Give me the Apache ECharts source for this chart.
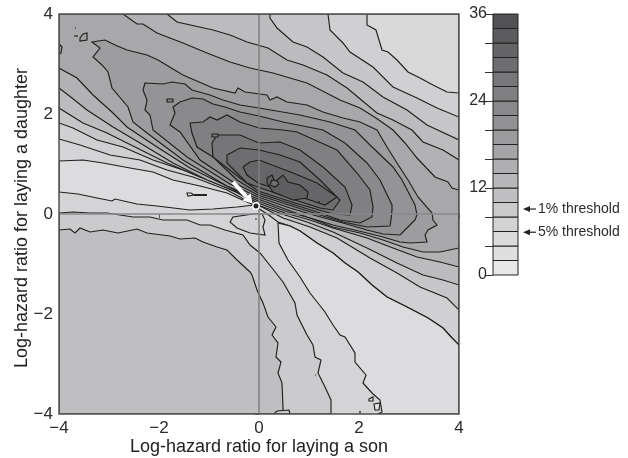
<!DOCTYPE html>
<html><head><meta charset="utf-8">
<style>html,body{margin:0;padding:0;background:#fff}#c{width:628px;height:458px}</style>
<script src="https://cdn.jsdelivr.net/npm/echarts@6/dist/echarts.min.js"></script>
</head><body><div id="c"></div>
<script>
// Contours in data units (log-hazard ratio for son, log-hazard ratio for daughter)
const band1 = [[-4,1.5],[-3.58,1.38],[-2.98,1.18],[-2.38,1.08],[-1.84,.88],[-1.32,.74],[-.64,.48],[-.38,.34],[-.02,.12],[.22,-.04],[.38,-.16],[.62,-.24],[.82,-.34],[1.16,-.58],[1.48,-.78],[1.72,-.98],[1.98,-1.16],[2.26,-1.42],[2.56,-1.66],[2.96,-1.86],[3.38,-2.08],[3.68,-2.28],[3.86,-2.48],[4,-2.62],[4,4],[-4,4]];
const band2 = [[-4,1.82],[-3.72,1.72],[-3.24,1.48],[-2.72,1.34],[-2.12,1.08],[-1.52,.88],[-.78,.58],[-.38,.4],[.02,.16],[.48,-.08],[1.02,-.26],[1.56,-.48],[2.22,-.88],[2.76,-1.18],[3.22,-1.46],[3.76,-1.68],[4,-1.92],[4,1.94],[3.56,2.12],[3.16,2.32],[2.68,2.54],[2.28,2.94],[1.82,3.24],[1.68,3.42],[1.42,3.68],[1.38,4],[-4,4]];
const band3 = [[-4,2.12],[-3.52,1.82],[-3.04,1.62],[-2.44,1.32],[-1.84,1.02],[-1.18,.74],[-.52,.48],[-.02,.18],[.52,-.02],[.96,-.16],[1.48,-.36],[2.16,-.68],[2.76,-.98],[3.28,-1.22],[3.68,-1.32],[4,-1.42],[4,1.48],[3.36,1.78],[2.96,2.08],[2.48,2.34],[2.08,2.64],[1.68,2.82],[1.28,3.14],[.96,3.34],[.68,3.44],[.36,3.72],[.22,3.92],[.22,4],[-4,4]];
const band4 = [[-4,2.52],[-3.74,2.32],[-3.44,2.08],[-2.92,1.74],[-2.38,1.42],[-1.72,1.02],[-1.04,.68],[-.44,.44],[-.02,.22],[.52,.02],[1.02,-.12],[1.48,-.28],[2.16,-.48],[2.68,-.68],[3.16,-.86],[3.62,-.96],[4,-1.06],[4,1.08],[3.68,1.28],[3.28,1.44],[3.06,1.68],[2.68,1.88],[2.36,2.02],[1.76,2.52],[1.36,2.78],[.88,2.98],[.56,3.08],[.18,3.32],[-.24,3.44],[-.58,3.58],[-.92,3.68],[-1.64,3.84],[-1.84,4],[-4,4]];
const band5 = [[-4,2.92],[-3.64,2.72],[-3.32,2.38],[-2.92,2.02],[-2.64,1.74],[-2.04,1.34],[-1.38,.92],[-.52,.5],[-.02,.26],[.52,.06],[1.02,-.08],[1.48,-.26],[2.02,-.38],[2.48,-.52],[2.88,-.66],[3.28,-.76],[3.62,-.76],[4,-.68],[4,.48],[3.86,.52],[3.78,.64],[3.52,.74],[3.16,1.12],[2.92,1.42],[2.68,1.68],[2.34,1.92],[2.02,2.12],[1.62,2.28],[.96,2.62],[.28,2.82],[-.18,2.92],[-.58,3.04],[-1.04,3.22],[-1.52,3.42],[-2.04,3.62],[-2.32,3.8],[-2.44,3.8],[-2.72,4],[-4,4]];
const ridgeA = [[-3.34,3.44],[-3.08,3.48],[-2.88,3.38],[-2.64,3.28],[-2.24,3.18],[-2.02,3.08],[-1.52,2.78],[-.92,2.52],[-.48,2.42],[-.42,2.52],[-.28,2.44],[.16,2.38],[.22,2.28],[.36,2.34],[.56,2.24],[.96,2.18],[1.28,2.04],[1.68,1.92],[2.02,1.84],[2.36,1.68],[2.56,1.34],[2.76,1.02],[2.98,.68],[3.18,.34],[3.46,.02],[3.48,-.12],[3.56,-.22],[3.38,-.32],[3.32,-.42],[3.36,-.56],[3.02,-.58],[2.82,-.56],[2.48,-.46],[2.08,-.36],[1.48,-.22],[.96,-.06],[.52,.1],[-.02,.3],[-.64,.56],[-1.52,1.08],[-2.24,1.62],[-2.52,1.84],[-2.62,2.14],[-2.94,2.52],[-3.02,2.84],[-3.14,2.98],[-3.32,3.14],[-3.18,3.32]];
const ridgeB = [[-2.28,2.62],[-1.92,2.6],[-1.74,2.64],[-1.48,2.6],[-1.34,2.48],[-.98,2.38],[-.72,2.28],[-.38,2.18],[0,2.12],[.82,1.98],[1.42,1.84],[1.92,1.68],[2.22,1.38],[2.68,.94],[2.86,.68],[3.12,.18],[3.16,-.02],[3.12,-.12],[2.98,-.26],[2.82,-.42],[2.48,-.4],[2.16,-.32],[1.68,-.18],[1.16,-.04],[.62,.12],[-.02,.34],[-.58,.6],[-1.44,1.14],[-2.12,1.68],[-2.18,1.98],[-2.28,2.08],[-2.24,2.28],[-2.32,2.48]];
const ridgeC = [[-1.58,2.24],[-1.34,2.32],[-1.12,2.3],[-.92,2.2],[-.68,2.14],[-.38,2.04],[0,1.96],[.48,1.84],[1.28,1.68],[1.72,1.42],[2.16,1.02],[2.42,.68],[2.66,.18],[2.66,.08],[2.64,-.12],[2.62,-.24],[2.16,-.26],[1.68,-.16],[1.22,-.02],[.72,.14],[-.02,.38],[-.52,.64],[-1.18,1.08],[-1.58,1.64],[-1.78,1.78],[-1.68,2.02],[-1.72,2.14]];
const ridgeD = [[-1.38,1.82],[-1.12,1.84],[-.98,1.94],[-.84,1.88],[-.64,1.98],[-.38,1.84],[0,1.72],[.48,1.68],[.76,1.64],[1.56,1.28],[1.96,.82],[2.22,.48],[2.28,.14],[2.26,-.06],[2.02,-.18],[1.62,-.12],[1.22,.02],[.72,.18],[-.02,.42],[-.44,.68],[-.92,1.14],[-1.24,1.34],[-1.34,1.62]];
const ridgeE = [[-.94,1.42],[-.84,1.58],[-.38,1.58],[0,1.42],[.42,1.44],[.82,1.28],[1.28,.94],[1.72,.54],[1.86,.18],[1.82,-.02],[1.48,0],[.72,.22],[-.02,.46],[-.38,.72],[-.92,1.14]];
const ridgeF = [[-.64,1.18],[-.38,1.32],[0,1.28],[.42,1.18],[.82,1.04],[1.22,.68],[1.62,.28],[1.48,.08],[1.22,.12],[.72,.28],[-.02,.54],[-.24,.62],[-.64,1.02]];
const ridgeG = [[-.32,.94],[-.18,1.04],[0,1.08],[.68,.82],[1.16,.62],[1.56,.34],[1.32,.18],[.72,.38],[-.02,.62],[-.24,.78]];
const ridgeH = [[.16,.72],[.26,.78],[.32,.64],[.48,.78],[.58,.64],[.82,.58],[.98,.44],[.96,.32],[.68,.28],[.28,.44],[.16,.62]];
const lowerLeft2 = [[-4,.02],[-3.72,.04],[-3.38,.02],[-3.04,.02],[-2.78,-.02],[-2.52,-.06],[-2.18,-.06],[-1.92,-.12],[-1.44,-.12],[-1.18,-.22],[-.98,-.22],[-.68,-.32],[-.32,-.42],[-.18,-.62],[.02,-.78],[.26,-1.08],[.48,-1.36],[.72,-1.78],[.76,-2.02],[.96,-2.42],[1.08,-2.62],[1.12,-2.86],[1.24,-2.92],[1.18,-3.18],[1.32,-3.46],[1.44,-3.72],[1.44,-4],[-4,-4]];
const lowerLeft3 = [[-4,-.32],[-3.78,-.3],[-3.68,-.38],[-3.58,-.28],[-3.38,-.36],[-3.12,-.32],[-2.82,-.38],[-2.44,-.3],[-2.24,-.38],[-1.78,-.44],[-1.58,-.5],[-1.28,-.48],[-1.12,-.56],[-.84,-.66],[-.64,-.72],[-.44,-.92],[-.18,-1.16],[-.14,-1.22],[-.04,-1.52],[.08,-1.78],[.18,-2.06],[.34,-2.26],[.26,-2.42],[.38,-2.58],[.34,-2.86],[.44,-2.96],[.38,-3.18],[.46,-3.38],[.48,-3.86],[.48,-4],[-4,-4]];
const cornerTopRight = [[2.16,4],[2.16,3.78],[2.34,3.68],[2.46,3.28],[2.58,3.24],[2.76,3.08],[2.98,2.84],[3.22,2.72],[3.48,2.58],[3.76,2.44],[4,2.42],[4,4]];
const wedgeLowerRight = [[2.38,-4],[2.46,-3.96],[2.42,-3.72],[2.26,-3.58],[2.08,-3.38],[2.14,-3.22],[1.92,-2.96],[1.92,-2.78],[1.72,-2.46],[1.62,-2.42],[1.48,-2.22],[1.32,-1.96],[1.02,-1.58],[.82,-1.26],[.58,-.92],[.4,-.58],[.38,-.18],[.62,-.24],[.82,-.34],[1.16,-.58],[1.48,-.78],[1.72,-.98],[1.98,-1.16],[2.26,-1.42],[2.56,-1.66],[2.96,-1.86],[3.38,-2.08],[3.68,-2.28],[3.86,-2.48],[4,-2.62],[4,-4]];
const wedgeLeft = [[-4,1.06],[-3.52,1.08],[-3.12,1.02],[-2.58,.92],[-2.12,.84],[-1.72,.68],[-1.18,.56],[-.64,.42],[-.24,.24],[-.1,.18],[-.44,.14],[-.92,.1],[-1.38,.08],[-2.04,.16],[-2.44,.2],[-2.88,.3],[-2.94,.26],[-3.24,.32],[-3.62,.4],[-4,.44]];
const islandCentre = [[-.58,-.16],[-.52,-.06],[-.12,0],[.06,0],[.12,-.12],[.08,-.26],[.12,-.42],[-.18,-.38],[-.44,-.28]];
const spotA = [[-3.58,3.52],[-3.52,3.6],[-3.44,3.62],[-3.44,3.48],[-3.58,3.46]];
const spotB = [[-4,3.4],[-3.94,3.34],[-3.96,3.22],[-4,3.2]];
const spotC = [[-1.84,2.3],[-1.72,2.3],[-1.72,2.24],[-1.84,2.24]];
const spotD = [[-.94,1.6],[-.82,1.6],[-.82,1.54],[-.94,1.54]];
const spotE = [[-1.44,.42],[-1.36,.42],[-1.3,.38],[-1.42,.36]];
const spotF = [[2.2,-3.7],[2.28,-3.66],[2.28,-3.74],[2.2,-3.74]];
const spotG = [[2.3,-3.8],[2.42,-3.78],[2.4,-3.92],[2.32,-3.92]];
const spotH = [[.3,-4],[.36,-3.94],[.6,-3.92],[.62,-4]];
const spotI = [[.26,.68],[.36,.66],[.4,.6],[.32,.54],[.22,.58]];
const streakA = [[-1.3,.38],[-1.04,.38]];
const streakB = [[1.2,.26],[1.2,.2]];
const streakC = [[2.02,-4],[2.02,-3.94]];
const streakD = [[-3.68,3.72],[-3.66,3.72]];
const streakE = [[-3.7,3.56],[-3.62,3.56]];
const streakF = [[1.12,-3.22],[1.14,-3.22]];
const streakG = [[-.08,-.1],[-.04,-.1]];
const legendLevels = [0,2,4,6,8,10,12,14,16,18,20,22,24,26,28,30,32,34];
const legendColors = ['#e8e8e9','#dfdfe0','#dbdbdc','#d3d3d4','#cacacb','#c0c0c2','#b8b8ba','#afafb1','#a5a5a7','#9c9c9e','#929294','#89898b','#808082','#777779','#6e6e70','#656567','#5c5c5e','#525254'];
const thresholdLabels = ['1% threshold','5% threshold'];
const thresholdValues = [9.1,5.9];
const arrowFrom = [-.52,.64];
const arrowTo = [-.13,.21];
const optimum = [-.06,.16];

const regions = [
 [band1,'#d0d0d2'],[band2,'#c6c6c8'],[band3,'#bcbcbe'],[band4,'#b2b2b4'],[band5,'#a8a8aa'],
 [ridgeA,'#9d9d9f'],[ridgeB,'#949496'],[ridgeC,'#8a8a8c'],[ridgeD,'#808082'],[ridgeE,'#767678'],[ridgeF,'#6e6e70'],[ridgeG,'#666668'],[ridgeH,'#5e5e60'],
 [lowerLeft2,'#cbcbcd'],[lowerLeft3,'#bfbfc2'],
 [cornerTopRight,'#d9d9da'],[wedgeLowerRight,'#dcdcde'],[wedgeLeft,'#dcdcde'],[islandCentre,'#d2d2d4'],
 [spotA,'#a2a2a4'],[spotB,'#9d9d9f'],[spotC,'#87878a'],[spotD,'#79797b'],[spotE,'#efefef'],[spotF,'#e4e4e4'],[spotG,'#e4e4e4'],[spotH,'#c8c8ca'],[spotI,'#6e6e70']
];
const streaks = [streakA,streakB,streakC,streakD,streakE,streakF,streakG];
const font = 'Liberation Sans';
const minus = v => String(v).replace('-','\u2212');

const chart = echarts.init(document.getElementById('c'), null, {renderer:'canvas'});
chart.setOption({
 animation:false,
 backgroundColor:'#fff',
 grid:[
  {left:59,top:14,width:400,height:400,show:true,backgroundColor:'#d4d4d6',borderWidth:0,outerBoundsMode:'none'},
  {left:493,top:14,width:25,height:261,outerBoundsMode:'none'}
 ],
 xAxis:[
  {type:'value',gridIndex:0,min:-4,max:4,interval:2,splitLine:{show:false},
   name:'Log-hazard ratio for laying a son',nameLocation:'middle',nameGap:24,nameMoveOverlap:false,
   nameTextStyle:{fontFamily:font,fontSize:18,color:'#222'},
   axisLine:{show:false},axisTick:{length:4,lineStyle:{color:'#555'}},
   axisLabel:{fontFamily:font,fontSize:17,color:'#2b2b2b',margin:6,formatter:minus}},
  {type:'value',gridIndex:1,min:0,max:1,show:false}
 ],
 yAxis:[
  {type:'value',gridIndex:0,min:-4,max:4,interval:2,splitLine:{show:false},
   name:'Log-hazard ratio for laying a daughter',nameLocation:'middle',nameGap:28,nameMoveOverlap:false,
   nameTextStyle:{fontFamily:font,fontSize:18,color:'#222',padding:[0,8,0,0]},
   axisLine:{show:false},axisTick:{length:4,lineStyle:{color:'#555'}},
   axisLabel:{fontFamily:font,fontSize:17,color:'#2b2b2b',margin:6,formatter:minus}},
  {type:'value',gridIndex:1,min:0,max:36,interval:4,splitLine:{show:false},
   axisLine:{show:false},axisTick:{length:8,lineStyle:{color:'#333'}},
   axisLabel:{fontFamily:font,fontSize:16,color:'#2b2b2b',margin:6,
    formatter:v=>v%12===0?String(v):''}}
 ],
 series:[
  {type:'custom',xAxisIndex:0,yAxisIndex:0,clip:true,z:2,
   data:regions.map((r,i)=>[i,0]),
   renderItem:(p,api)=>{const r=regions[p.dataIndex];
    return {type:'polygon',shape:{points:r[0].map(q=>api.coord(q))},
     style:{fill:r[1],stroke:'#1f1f1f',lineWidth:1.15}};}},
  {type:'custom',xAxisIndex:0,yAxisIndex:0,clip:true,z:3,
   data:streaks.map((r,i)=>[i,0]),
   renderItem:(p,api)=>({type:'polyline',shape:{points:streaks[p.dataIndex].map(q=>api.coord(q))},
     style:{fill:null,stroke:'#222',lineWidth:p.dataIndex===0?2:1.2}})},
  {type:'line',xAxisIndex:0,yAxisIndex:0,z:4,symbol:'none',silent:true,
   lineStyle:{color:'#7f7f81',width:1.5},data:[[0,-4],[0,4]]},
  {type:'line',xAxisIndex:0,yAxisIndex:0,z:4,symbol:'none',silent:true,
   lineStyle:{color:'#8a8a8c',width:1.5},data:[[-4,0],[4,0]]},
  {type:'custom',xAxisIndex:0,yAxisIndex:0,clip:false,z:5,data:[[0,0]],
   renderItem:(p,api)=>{
    const a=api.coord(arrowFrom),b=api.coord(arrowTo),c=api.coord(optimum);
    const d=Math.hypot(b[0]-a[0],b[1]-a[1]),u=[(b[0]-a[0])/d,(b[1]-a[1])/d],n=[-u[1],u[0]];
    const neck=[b[0]-u[0]*9,b[1]-u[1]*9];
    return {type:'group',children:[
     {type:'line',shape:{x1:a[0],y1:a[1],x2:neck[0],y2:neck[1]},style:{stroke:'#fff',lineWidth:4}},
     {type:'polygon',shape:{points:[b,[neck[0]+n[0]*5.5,neck[1]+n[1]*5.5],[neck[0]-n[0]*5.5,neck[1]-n[1]*5.5]]},style:{fill:'#fff'}},
     {type:'circle',shape:{cx:c[0],cy:c[1],r:3.2},style:{fill:'#222',stroke:'#fff',lineWidth:1.4}}
    ]};}},
  {type:'custom',xAxisIndex:0,yAxisIndex:0,clip:false,z:6,data:[[0,0]],
   renderItem:(p,api)=>{
    const a=api.coord([-4,4]),b=api.coord([4,-4]);
    return {type:'rect',shape:{x:a[0],y:a[1],width:b[0]-a[0],height:b[1]-a[1]},
     style:{fill:null,stroke:'#505050',lineWidth:1.5}};}},
  {type:'custom',xAxisIndex:1,yAxisIndex:1,clip:false,z:3,
   data:legendLevels.map(v=>[0,v]),
   renderItem:(p,api)=>{const v=legendLevels[p.dataIndex];
    const a=api.coord([0,v+2]),b=api.coord([1,v]);
    return {type:'rect',shape:{x:a[0],y:a[1],width:b[0]-a[0],height:b[1]-a[1]},
     style:{fill:legendColors[p.dataIndex],stroke:'#222',lineWidth:1}};}},
  {type:'custom',xAxisIndex:1,yAxisIndex:1,clip:false,z:3,
   data:thresholdValues.map(v=>[1,v]),
   renderItem:(p,api)=>{const q=api.coord([1,thresholdValues[p.dataIndex]]);
    const x=q[0],y=q[1];
    return {type:'group',children:[
     {type:'polygon',shape:{points:[[x+5,y],[x+12,y-3],[x+12,y+3]]},style:{fill:'#222'}},
     {type:'line',shape:{x1:x+11,y1:y,x2:x+18,y2:y},style:{stroke:'#222',lineWidth:1.2}},
     {type:'text',x:x+20,y:y,style:{text:thresholdLabels[p.dataIndex],fontFamily:font,fontSize:14,fill:'#2b2b2b',verticalAlign:'middle',textAlign:'left'}}
    ]};}}
 ]
});
</script></body></html>
